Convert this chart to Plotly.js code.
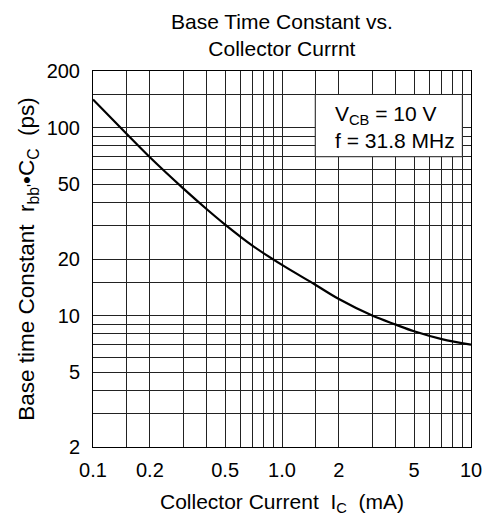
<!DOCTYPE html>
<html>
<head>
<meta charset="utf-8">
<script src="https://cdn.plot.ly/plotly-3.0.1.min.js"></script>
<style>html,body{margin:0;padding:0;background:#fff;}#chart{width:486px;height:516px;}</style>
</head>
<body>
<div id="chart"></div>
<script>
// Data
var collectorCurrent = [0.1, 0.15, 0.2, 0.3, 0.4, 0.5, 0.7, 1.0, 1.5, 2, 3, 4, 5, 7, 10];
var timeConstant     = [141, 93, 69.5, 47.5, 36.8, 30.5, 23.5, 18.6, 14.6, 12.25, 10.0, 8.95, 8.25, 7.5, 7.0];

var xGridVals = [0.1,0.15,0.2,0.3,0.4,0.5,0.6,0.7,0.8,0.9,1,1.5,2,3,4,5,6,7,8,9,10];
var xTickText = ['0.1','','0.2','','','0.5','','','','','1.0','','2','','','5','','','','','10'];
var yGridVals = [2,3,4,5,6,7,8,9,10,15,20,30,40,50,60,70,80,90,100,150,200];
var yTickText = ['2','','','5','','','','','10','','20','','','50','','','','','100','','200'];

var FONT = 'Liberation Sans, Arial, sans-serif';
var FS = 20;
var TS = 21;

var trace = {
  x: collectorCurrent, y: timeConstant,
  mode: 'lines', type: 'scatter',
  line: {color: '#000', width: 2.2, shape: 'spline', smoothing: 1},
  hoverinfo: 'skip'
};

var layout = {
  width: 486, height: 516,
  margin: {l: 93, r: 15, t: 71, b: 69},
  paper_bgcolor: '#fff', plot_bgcolor: '#fff',
  font: {family: FONT, size: FS, color: '#000'},
  showlegend: false,
  xaxis: {
    type: 'log', range: [-1, 1],
    tickmode: 'array', tickvals: xGridVals, ticktext: xTickText,
    ticks: '', showgrid: true, gridcolor: '#222', gridwidth: 1,
    showline: true, linecolor: '#000', linewidth: 1, mirror: true,
    zeroline: false, ticklabelstandoff: 5,
    tickfont: {family: FONT, size: FS, color: '#000'},
    title: {text: 'Collector Current  I<sub>C</sub>  (mA)', font: {family: FONT, size: TS, color: '#000'}, standoff: 14}
  },
  yaxis: {
    type: 'log', range: [Math.log10(2), Math.log10(200)],
    tickmode: 'array', tickvals: yGridVals, ticktext: yTickText,
    ticks: '', showgrid: true, gridcolor: '#222', gridwidth: 1,
    showline: true, linecolor: '#000', linewidth: 1, mirror: true,
    zeroline: false, ticklabelstandoff: 8,
    tickfont: {family: FONT, size: FS, color: '#000'},
    title: {text: "Base time Constant  r<sub>bb'</sub>•C<sub>C</sub>  (ps)", font: {family: FONT, size: 22.5, color: '#000'}, standoff: 5}
  },
  shapes: [{
    type: 'rect', xref: 'x', yref: 'y', x0: 1.5, x1: 9, y0: 70, y1: 150,
    fillcolor: '#fff', line: {color: '#222', width: 1}, layer: 'above'
  }],
  annotations: [{
    xref: 'paper', yref: 'paper', x: 0.5, y: 1.096,
    xanchor: 'center', yanchor: 'middle', align: 'center', showarrow: false,
    text: 'Base Time Constant vs.<br>Collector Currnt',
    font: {family: FONT, size: TS, color: '#000'}
  }, {
    xref: 'paper', yref: 'paper', x: 0.636, y: 0.852,
    xanchor: 'left', yanchor: 'middle', align: 'left', showarrow: false,
    text: 'V<sub>CB</sub> = 10 V<br>f = 31.8 MHz',
    font: {family: FONT, size: TS, color: '#000'}
  }]
};

Plotly.newPlot('chart', [trace], layout, {staticPlot: true, displayModeBar: false});
</script>
</body>
</html>
